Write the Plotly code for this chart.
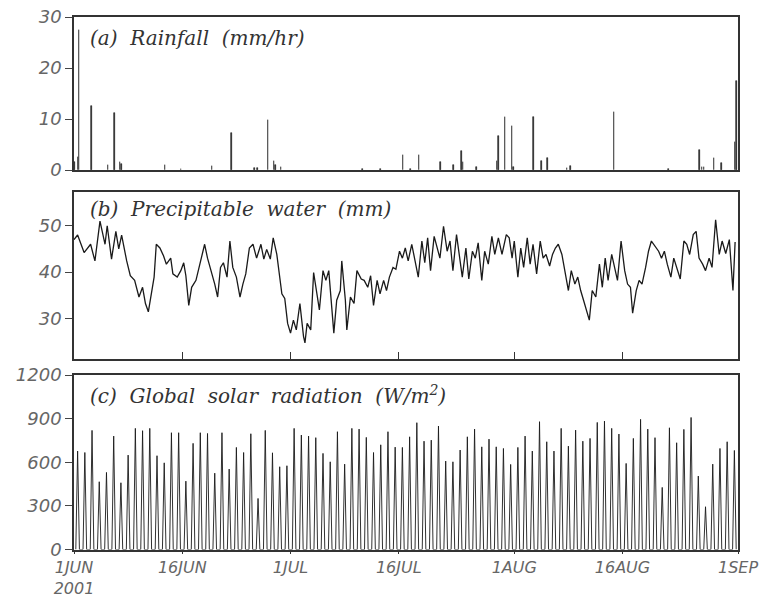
import pandas as pd
import plotly.graph_objects as go

# ---------------- data ----------------
start_date = "2001-06-01"
end_date = "2001-09-01"

# (a) rainfall events: day offset from 1 Jun 00:00, rain rate mm/hr
rain_day = [0.1, 0.55, 0.7, 2.45, 4.7, 5.65, 6.4, 6.6, 12.6, 14.8, 19.1, 21.8,
            25.0, 25.4, 26.9, 27.7, 27.9, 28.7, 40.0, 42.5, 45.6, 46.6, 47.8,
            50.8, 52.6, 53.7, 53.9, 55.8, 58.6, 58.8, 59.7, 60.7, 60.9, 63.7,
            64.8, 65.6, 68.3, 68.8, 74.8, 82.4, 86.7, 87.0, 87.3, 88.7, 89.7,
            91.6, 91.8]
rain_val = [1.5, 2.5, 27.5, 12.5, 1.0, 11.2, 1.5, 1.2, 1.0, 0.2, 0.8, 7.2,
            0.3, 0.3, 9.8, 1.7, 1.0, 0.6, 0.2, 0.2, 2.9, 0.2, 2.9,
            1.6, 1.0, 3.7, 1.5, 0.5, 1.8, 6.7, 10.3, 8.6, 0.5, 10.4,
            1.8, 2.4, 0.3, 0.8, 11.4, 0.1, 3.9, 0.5, 0.5, 2.4, 1.4,
            5.5, 17.4]

# (b) precipitable water (mm): day offset, value
pw_day = [0.0, 0.5, 1.4, 2.3, 2.9, 3.6, 4.3, 4.6, 5.2, 5.8, 6.2, 6.6, 7.3, 7.8,
          8.4, 9.0, 9.5, 9.9, 10.3, 10.8, 11.1, 11.4, 11.9, 12.4, 12.8, 13.4,
          13.7, 14.3, 14.8, 15.2, 15.5, 15.9, 16.3, 16.9, 17.5, 18.1, 18.5,
          19.0, 19.5, 19.9, 20.3, 20.7, 21.2, 21.6, 22.0, 22.5, 23.0, 23.4,
          23.8, 24.3, 24.8, 25.3, 25.9, 26.3, 26.7, 27.2, 27.6, 28.1, 28.4,
          28.8, 29.2, 29.6, 30.0, 30.4, 30.8, 31.3, 31.8, 32.0, 32.3, 32.8,
          33.2, 33.6, 34.0, 34.5, 34.9, 35.3, 35.7, 36.0, 36.4, 36.9, 37.1,
          37.6, 37.8, 38.3, 38.8, 39.2, 39.8, 40.2, 40.7, 41.1, 41.5, 42.0,
          42.4, 42.9, 43.3, 43.7, 44.2, 44.6, 45.1, 45.5, 45.9, 46.3, 46.8,
          47.2, 47.7, 48.2, 48.6, 49.0, 49.4, 49.9, 50.3, 50.7, 51.2, 51.7,
          52.1, 52.5, 53.0, 53.4, 53.8, 54.3, 54.7, 55.2, 55.6, 56.0, 56.5,
          56.9, 57.4, 57.9, 58.3, 58.8, 59.3, 59.9, 60.3, 60.7, 61.0, 61.5,
          61.9, 62.3, 62.8, 63.2, 63.6, 64.1, 64.6, 65.0, 65.4, 65.9, 66.3,
          66.7, 67.1, 67.6, 68.1, 68.5, 68.9, 69.4, 69.8, 70.2, 70.6, 71.1,
          71.4, 71.8, 72.3, 72.8, 73.2, 73.6, 74.0, 74.5, 74.9, 75.3, 75.8,
          76.3, 76.7, 77.1, 77.4, 77.9, 78.3, 78.7, 79.2, 79.6, 80.0, 80.5,
          81.0, 81.4, 81.8, 82.2, 82.7, 83.1, 83.5, 84.0, 84.5, 84.9, 85.3,
          85.8, 86.2, 86.6, 87.1, 87.5, 88.0, 88.4, 88.9, 89.4, 89.8, 90.3,
          90.8, 91.3, 91.6, 91.95]
pw_val = [47.0, 48.0, 44.2, 46.0, 42.4, 51.0, 46.0, 50.0, 42.8, 48.8, 45.0, 48.0,
          42.4, 39.2, 38.2, 34.6, 36.7, 33.2, 31.4, 36.7, 38.9, 46.0, 45.2,
          43.5, 41.7, 43.0, 39.6, 38.9, 40.3, 42.0, 39.2, 32.8, 36.7, 38.2,
          42.0, 46.0, 43.0, 40.3, 37.4, 34.6, 41.0, 42.0, 38.9, 46.7, 41.0,
          38.9, 34.6, 37.4, 39.6, 45.2, 46.0, 43.0, 46.0, 42.8, 44.9, 42.8,
          47.4, 43.8, 40.3, 35.3, 34.3, 28.9, 26.8, 29.6, 27.5, 33.2, 26.1,
          24.7, 28.9, 27.5, 39.9, 36.0, 31.8, 40.3, 38.2, 40.3, 33.2, 26.8,
          33.9, 36.0, 42.4, 33.9, 27.5, 34.6, 33.2, 40.3, 38.5, 38.2, 36.7,
          39.2, 32.8, 38.2, 35.3, 38.2, 36.0, 38.9, 41.0, 40.6, 44.5, 43.0,
          45.2, 42.4, 46.0, 43.0, 38.9, 46.7, 42.0, 47.4, 40.3, 47.7, 45.2,
          43.0, 49.9, 44.5, 46.7, 40.3, 48.1, 43.0, 38.9, 45.2, 38.5, 44.5,
          43.0, 46.3, 38.2, 44.5, 41.7, 47.7, 43.8, 47.4, 43.8, 48.1, 47.4,
          43.0, 46.7, 38.9, 45.2, 41.0, 47.4, 41.7, 46.0, 39.6, 46.7, 43.0,
          43.8, 41.3, 43.8, 45.2, 46.0, 43.8, 39.2, 36.0, 40.3, 37.4, 38.9,
          36.0, 33.9, 31.1, 29.6, 36.0, 34.6, 41.7, 36.7, 43.0, 38.2, 43.8,
          41.0, 38.2, 46.7, 40.3, 37.4, 36.7, 31.1, 36.0, 38.2, 37.4, 41.0,
          44.5, 46.7, 45.6, 44.5, 43.0, 44.5, 41.7, 38.9, 43.0, 41.0, 38.5,
          46.7, 46.0, 43.8, 48.1, 48.8, 43.0, 41.7, 40.3, 43.0, 41.0, 51.3,
          43.8, 46.7, 44.0, 47.0, 36.0, 46.5]

# (c) daily peak of global solar radiation (W/m2), one per day from 1 Jun
solar_peak = [677, 667, 819, 466, 530, 780, 459, 649, 833, 817, 833, 645, 596,
              803, 803, 470, 730, 803, 798, 525, 803, 553, 702, 667, 796, 351,
              819, 665, 569, 576, 833, 787, 780, 769, 661, 603, 810, 587, 833,
              828, 771, 667, 720, 810, 704, 702, 775, 872, 745, 752, 849, 608,
              603, 684, 775, 828, 706, 759, 706, 695, 585, 702, 780, 677, 879,
              741, 677, 833, 711, 821, 745, 764, 874, 883, 833, 794, 592, 764,
              895, 828, 769, 427, 837, 734, 826, 908, 505, 294, 587, 695, 741,
              681]
# hours of sunrise / noon / sunset used for each daily cycle
solar_hours = [6, 12, 18]

y_ticks_a = [0, 10, 20, 30]
y_ticks_b = [30, 40, 50]
y_ticks_c = [0, 300, 600, 900, 1200]
x_tick_dates = ["2001-06-01", "2001-06-16", "2001-07-01", "2001-07-16",
                "2001-08-01", "2001-08-16", "2001-09-01"]
x_tick_text = ["1JUN<br>2001", "16JUN", "1JUL", "16JUL", "1AUG", "16AUG", "1SEP"]

# ---------------- build series ----------------
base = pd.Timestamp(start_date)
rain_x = [base + pd.Timedelta(days=d) for d in rain_day]
pw_x = [base + pd.Timedelta(days=d) for d in pw_day]
solar_x, solar_y = [], []
for i, pk in enumerate(solar_peak):
    day = base + pd.Timedelta(days=i)
    solar_x += [day + pd.Timedelta(hours=h) for h in solar_hours]
    solar_y += [0, pk, 0]

fig = go.Figure()
fig.add_trace(go.Bar(x=rain_x, y=rain_val, width=2 * 3600 * 1000,
                     marker=dict(color="#111", line=dict(color="#222", width=0.6)),
                     xaxis="x", yaxis="y", showlegend=False))
fig.add_trace(go.Scatter(x=pw_x, y=pw_val, mode="lines",
                         line=dict(color="#1a1a1a", width=1.3),
                         xaxis="x2", yaxis="y2", showlegend=False))
fig.add_trace(go.Scatter(x=solar_x, y=solar_y, mode="lines",
                         line=dict(color="#1a1a1a", width=0.9),
                         xaxis="x3", yaxis="y3", showlegend=False))

tick_font = dict(family="DejaVu Sans", size=18, color="#666", style="italic")
xtick_font = dict(family="DejaVu Sans", size=16, color="#666", style="italic")
frame = dict(showline=True, linecolor="#333", linewidth=1.5, mirror=True,
             showgrid=False, zeroline=False, automargin=False)
xdom = [74 / 769, 738 / 769]
xr = [start_date, end_date]

fig.update_layout(
    width=769, height=600, margin=dict(l=0, r=0, t=0, b=0),
    paper_bgcolor="white", plot_bgcolor="white", bargap=0,
    xaxis=dict(domain=xdom, anchor="y", range=xr, type="date",
               ticks="", showticklabels=False, **frame),
    yaxis=dict(domain=[1 - 170 / 600, 1 - 17 / 600], anchor="x", range=[0, 30],
               tickvals=y_ticks_a, ticks="outside", ticklen=7, tickcolor="#444",
               tickfont=tick_font, **frame),
    xaxis2=dict(domain=xdom, anchor="y2", range=xr, type="date",
                tickvals=x_tick_dates[1:-1], ticks="inside", ticklen=7,
                tickcolor="#333", showticklabels=False, **frame),
    xaxis4=dict(overlaying="x2", anchor="y2", side="bottom", range=xr, type="date",
                tickvals=x_tick_dates[1:-1], ticks="outside", ticklen=8,
                tickcolor="#333", showticklabels=False, showgrid=False,
                zeroline=False, showline=False, automargin=False),
    yaxis2=dict(domain=[1 - 359 / 600, 1 - 192 / 600], anchor="x2",
                range=[21.2, 57.3], tickvals=y_ticks_b, ticks="outside",
                ticklen=7, tickcolor="#444", tickfont=tick_font, **frame),
    xaxis3=dict(domain=xdom, anchor="y3", range=xr, type="date",
                tickvals=x_tick_dates, ticktext=x_tick_text, ticks="outside",
                ticklen=3, tickcolor="#333", tickfont=xtick_font, **frame),
    yaxis3=dict(domain=[1 - 549.5 / 600, 1 - 375 / 600], anchor="x3",
                range=[0, 1200], tickvals=y_ticks_c, ticks="outside", ticklen=7,
                tickcolor="#444", tickfont=tick_font, **frame),
)

title_font = dict(family="DejaVu Serif", size=20, color="#333")
titles = [("<i>(a)  Rainfall  (mm/hr)</i>", 1 - 24 / 600),
          ("<i>(b)  Precipitable  water  (mm)</i>", 1 - 195 / 600),
          ("<i>(c)  Global  solar  radiation  (W/m<sup>2</sup>)</i>", 1 - 380 / 600)]
for txt, yy in titles:
    fig.add_annotation(text=txt, xref="paper", yref="paper", x=88 / 769, y=yy,
                       xanchor="left", yanchor="top", showarrow=False,
                       font=title_font)

fig.write_html("out.html")
